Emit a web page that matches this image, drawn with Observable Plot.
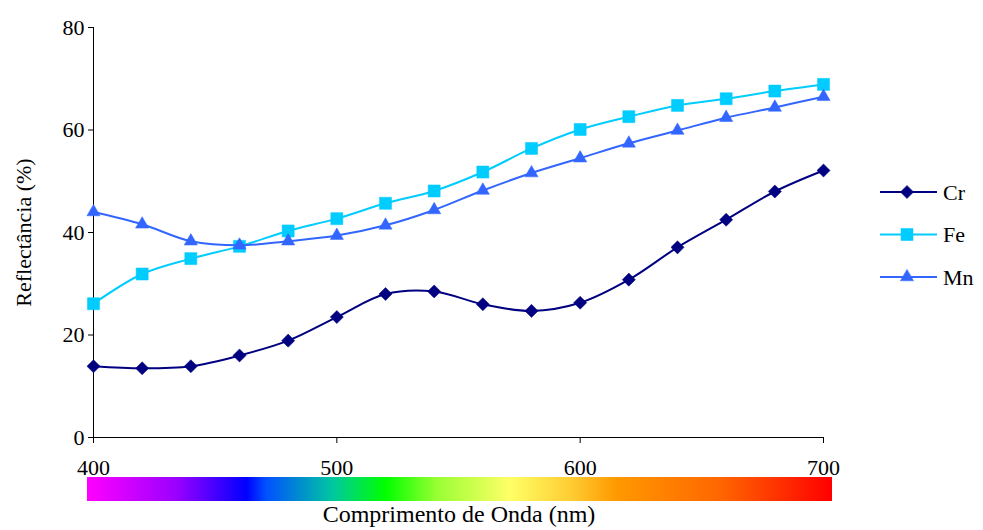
<!DOCTYPE html>
<html>
<head>
<meta charset="utf-8">
<script src="https://cdn.jsdelivr.net/npm/d3@7"></script>
<script src="https://cdn.jsdelivr.net/npm/@observablehq/plot@0.6"></script>
<style>
  body { margin: 0; background: #fff; }
  #wrap { position: relative; width: 983px; height: 530px; font-family: 'Liberation Serif', 'Times New Roman', Times, 'DejaVu Serif', serif; }
  #spectrum { position: absolute; left: 87px; top: 477px; width: 745px; height: 24px;
    background: linear-gradient(to right, #ff00ff 0%, #9a00ff 12%, #0000ff 21.4%, #0050ff 24%, #00c8a0 33%, #00ff00 40%, #99ff33 47%, #ffff66 56.7%, #ffcc33 65%, #ff9900 71%, #ff6600 85%, #ff0000 100%); }
  #xtitle { position: absolute; left: 0; width: 918px; top: 501px; text-align: center; font-size: 24px; }
  #legend { position: absolute; left: 878px; top: 172px; }
  svg text { font-family: 'Liberation Serif', 'Times New Roman', Times, 'DejaVu Serif', serif !important; }
</style>
</head>
<body>
<div id="wrap">
  <div id="chart"></div>
  <div id="spectrum"></div>
  <div id="xtitle">Comprimento de Onda (nm)</div>
  <div id="legend"></div>
</div>
<script>
const wavelengths = [400, 420, 440, 460, 480, 500, 520, 540, 560, 580, 600, 620, 640, 660, 680, 700];
const cr = [13.9, 13.5, 13.9, 16.0, 18.9, 23.5, 28.0, 28.5, 26.0, 24.7, 26.3, 30.8, 37.1, 42.5, 48.0, 52.1];
const fe = [26.1, 31.9, 34.9, 37.3, 40.3, 42.7, 45.7, 48.1, 51.8, 56.4, 60.1, 62.6, 64.8, 66.1, 67.6, 68.9];
const mn = [44.0, 41.6, 38.3, 37.5, 38.3, 39.4, 41.4, 44.4, 48.2, 51.6, 54.5, 57.4, 59.9, 62.4, 64.4, 66.5];
const seriesNames = ["Cr", "Fe", "Mn"];
const seriesColors = ["#000080", "#00ccff", "#3366ff"];
const seriesSymbols = ["diamond2", "square", "triangle"];
const seriesR = [5.9, 6.8, 4.9];
const xTicks = [400, 500, 600, 700];
const yTicks = [0, 20, 40, 60, 80];

const FONT = "'Liberation Serif', 'Times New Roman', Times, 'DejaVu Serif', serif";

const seriesValues = [cr, fe, mn];
const data = [];
seriesNames.forEach((name, i) => {
  wavelengths.forEach((w, j) => data.push({series: name, x: w, y: seriesValues[i][j]}));
});

const marks = [
  Plot.ruleX([400], {stroke: "#000", strokeWidth: 1}),
  Plot.ruleY([0], {stroke: "#000", strokeWidth: 1}),
  Plot.axisY({ticks: yTicks, tickSize: 5, tickPadding: 4, fontSize: 22, label: "Reflectância (%)",
    labelAnchor: "center", labelArrow: "none", labelOffset: 78, tickFormat: d => d}),
  Plot.axisX({ticks: xTicks, tickSize: 6, tickPadding: 16, fontSize: 22, label: null, tickFormat: d => d})
];
seriesNames.forEach((name, i) => {
  const d = data.filter(p => p.series === name);
  marks.push(Plot.line(d, {x: "x", y: "y", stroke: seriesColors[i], strokeWidth: 2, curve: "catmull-rom"}));
  marks.push(Plot.dot(d, {x: "x", y: "y", symbol: () => seriesSymbols[i], r: seriesR[i],
    fill: seriesColors[i], stroke: seriesColors[i], strokeWidth: 0.5}));
});

const chart = Plot.plot({
  width: 983,
  height: 530,
  marginTop: 27,
  marginBottom: 93,
  marginLeft: 93,
  marginRight: 160,
  style: {fontFamily: FONT, fontSize: "22px", color: "#000", background: "#fff"},
  x: {domain: [400, 700]},
  y: {domain: [0, 80]},
  symbol: {type: "identity"},
  marks
});
document.getElementById("chart").appendChild(chart);

// legend
const leg = d3.select("#legend").append("svg").attr("width", 100).attr("height", 130)
  .style("font-family", FONT).style("font-size", "22px");
const symMap = {diamond2: d3.symbolDiamond2, square: d3.symbolSquare, triangle: d3.symbolTriangle};
seriesNames.forEach((name, i) => {
  const y = 20 + i * 42.5;
  const g = leg.append("g").attr("transform", `translate(0,${y})`);
  g.append("line").attr("x1", 2).attr("x2", 59).attr("y1", 0).attr("y2", 0)
    .attr("stroke", seriesColors[i]).attr("stroke-width", 2);
  g.append("path").attr("transform", "translate(29,0)")
    .attr("d", d3.symbol(symMap[seriesSymbols[i]], Math.PI * seriesR[i] * seriesR[i])())
    .attr("fill", seriesColors[i]).attr("stroke", seriesColors[i]).attr("stroke-width", 0.5);
  g.append("text").attr("x", 65).attr("y", 0).attr("dy", "0.35em").text(name);
});
</script>
</body>
</html>
